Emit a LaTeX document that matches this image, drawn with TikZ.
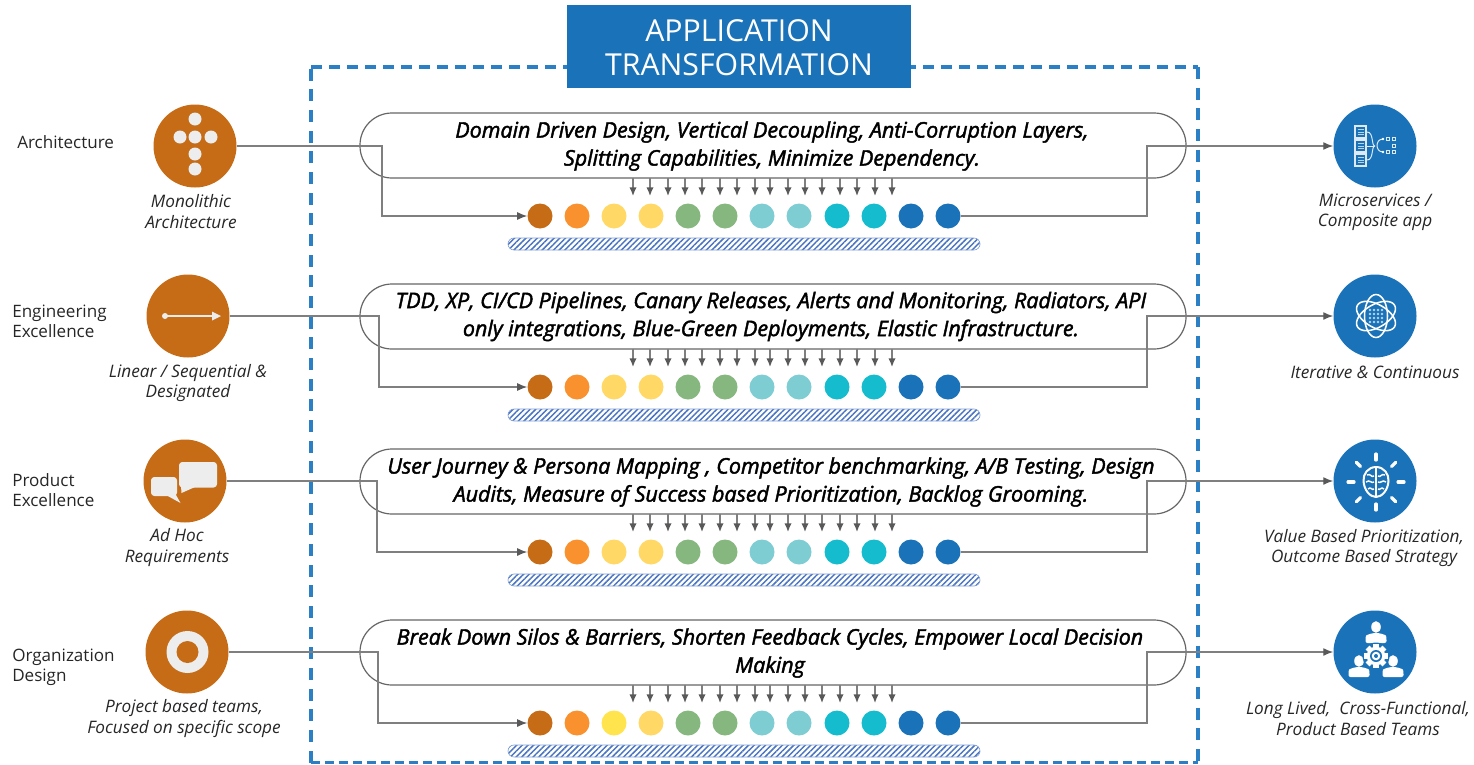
\documentclass[tikz,border=0pt]{standalone}
\usepackage{fontspec}
\setmainfont{Open Sans}
\newfontfamily\pillfont{Open Sans}[UprightFont=* Italic]
\newcommand{\heavytext}[1]{\special{pdf:code 2 Tr 0.32 w}#1\special{pdf:code 0 Tr 1 w}}
\usetikzlibrary{arrows.meta,patterns.meta}
\definecolor{rustc}{HTML}{C66C16}
\definecolor{bluec}{HTML}{1A72B9}
\definecolor{dashc}{HTML}{2A7FC5}
\definecolor{iconc}{HTML}{EDEDED}
\definecolor{linec}{HTML}{7F7F7F}
\definecolor{headc}{HTML}{595959}
\definecolor{pillc}{HTML}{666666}
\definecolor{txtc}{HTML}{262626}
\definecolor{dA}{HTML}{C66C16}
\definecolor{dB}{HTML}{F9922E}
\definecolor{dC}{HTML}{FFD866}
\definecolor{dCC}{HTML}{FFE44D}
\definecolor{dD}{HTML}{85B77E}
\definecolor{dE}{HTML}{7DCDD3}
\definecolor{dF}{HTML}{15BCCE}
\definecolor{hatchc}{HTML}{4A74C0}
\tikzset{
  x=0.75pt,y=-0.75pt,
  boxside/.style={draw=dashc,line width=2.4pt,dash pattern=on 9pt off 6.5pt},
  titlebox/.style={fill=bluec,draw=none,text=white,minimum width=258pt,minimum height=62pt,inner sep=0pt},
  titletxt/.style={align=center,text=white,inner sep=0pt,font=\fontsize{22.7}{25.5}\selectfont},
  pill/.style={draw=pillc,line width=0.9pt,rounded corners=24pt,minimum width=619.5pt,minimum height=48.75pt,inner sep=0pt},
  pilltext/.style={align=center,text=black,font=\pillfont\fontsize{16.1}{21}\selectfont,inner sep=0pt},
  conn/.style={draw=linec,line width=1pt},
  connarrow/.style={conn,-{Latex[length=7.5pt,width=6pt,color=headc]}},
  downarrow/.style={conn,-{Latex[length=6.5pt,width=5.5pt,color=headc]}},
  bigleft/.style={circle,fill=rustc,minimum size=62.25pt,inner sep=0pt},
  bigright/.style={circle,fill=bluec,minimum size=62.25pt,inner sep=0pt},
  dotnode/.style={circle,minimum size=18.75pt,inner sep=0pt},
  hatchbar/.style={draw=hatchc!70,line width=0.5pt,rounded corners=4.5pt,pattern={Lines[angle=45,distance=3pt,line width=1.1pt]},pattern color=hatchc},
  lab/.style={align=left,anchor=west,text=txtc,inner sep=0pt,font=\fontsize{12.8}{15}\selectfont},
  captext/.style={align=center,text=txtc,inner sep=0pt,font=\fontsize{12.9}{15.3}\selectfont\itshape},
}
\begin{document}
\begin{tikzpicture}
\useasboundingbox (0,0) rectangle (1474,764);
% dashed frame
\draw[boxside] (311,762.5) -- (311,67);
\draw[boxside,dash pattern=on 8pt off 5.5pt] (311,67) -- (1198,67);
\draw[boxside] (1198,67) -- (1198,762.5);
\draw[boxside,dash pattern=on 6.5pt off 4pt] (311,762.5) -- (1198,762.5);
% title
\node[titlebox] (title) at (739,46.5) {};
\node[titletxt] (titletext) at (739,47.5) {APPLICATION\\TRANSFORMATION};
% pills
\node[pill] (pill1) at (773,145.5) {};
\node[pill] (pill2) at (773,316.5) {};
\node[pill] (pill3) at (773,481.5) {};
\node[pill] (pill4) at (773,652.5) {};
% rows
\foreach \r/\ly/\lx/\tx/\dy/\pb/\tc in {1/146/195/382/216/178/dC,2/316/188/379/387/349/dC,3/481/185/377/552/514/dC,4/652/187/378/723/685/dCC}{
  \colorlet{thirdc}{\tc}
  \node[bigleft] (L\r) at (\lx,\ly) {};
  \node[bigright] (R\r) at (1375,\ly) {};
  \foreach \i/\dx/\c in {1/540/dA,2/577/dB,3/614/thirdc,4/651/dC,5/688/dD,6/725/dD,7/762/dE,8/799/dE,9/837/dF,10/874/dF,11/911/bluec,12/948/bluec}{
    \node[dotnode,fill=\c] (d\r-\i) at (\dx,\dy) {};
  }
  \coordinate (tl\r) at (\tx,\ly);
  \coordinate (tb\r) at (\tx,\dy);
  \coordinate (tr\r) at (1147,\dy);
  \coordinate (ts\r) at (1147,\ly);
  \draw[connarrow] (L\r.east) -- (tl\r) -- (tb\r) -- (d\r-1.west);
  \draw[connarrow] (d\r-12.east) -- (tr\r) -- (ts\r) -- (R\r.west);
  \foreach \j/\ax in {1/633,2/650,3/668,4/685,5/702,6/720,7/737,8/755,9/770,10/788,11/805,12/822,13/840,14/857,15/875,16/892}{
    \coordinate (as\r-\j) at (\ax,\pb);
    \coordinate (ae\r-\j) at (\ax,\pb+18);
    \draw[downarrow] (as\r-\j) -- (ae\r-\j);
  }
  \path[hatchbar] (508,\dy+22) rectangle (980,\dy+34);
}
% pill texts
\node[pilltext] (pt1) at (772,146) {\heavytext{Domain Driven Design, Vertical Decoupling, Anti-Corruption Layers,}\\\heavytext{Splitting Capabilities, Minimize Dependency.}};
\node[pilltext] (pt2) at (771,316.5) {\heavytext{TDD, XP, CI/CD Pipelines, Canary Releases, Alerts and Monitoring, Radiators, API}\\\heavytext{only integrations, Blue-Green Deployments, Elastic Infrastructure.}};
\node[pilltext] (pt3) at (771,482) {\heavytext{User Journey \& Persona Mapping , Competitor benchmarking, A/B Testing, Design}\\\heavytext{Audits, Measure of Success based Prioritization, Backlog Grooming.}};
\node[pilltext] (pt4) at (770,653) {\heavytext{Break Down Silos \& Barriers, Shorten Feedback Cycles, Empower Local Decision}\\\heavytext{Making}};
% left labels
\node[lab] (la1) at (17,142) {Architecture};
\node[lab] (la2) at (12,321.5) {Engineering\\Excellence};
\node[lab] (la3) at (12,490) {Product\\Excellence};
\node[lab] (la4) at (12,667.5) {Organization\\Design};
% captions
\node[captext] (c1) at (191,211.5) {Monolithic\\Architecture};
\node[captext] (c2) at (188,383) {Linear / Sequential \&\\Designated};
\node[captext] (c3) at (177,547.5) {Ad Hoc\\Requirements};
\node[captext] (c4) at (184,718.5) {Project based teams,\\Focused on specific scope};
\node[captext] (e1) at (1375,212.5) {Microservices /\\Composite app};
\node[captext] (e2) at (1375,372.5) {Iterative \& Continuous};
\node[captext] (e3) at (1364,548) {Value Based Prioritization,\\Outcome Based Strategy};
\node[captext] (e4) at (1358,718.5) {Long Lived,\ \ Cross-Functional,\\Product Based Teams};
% icon: monolith
\foreach \ix/\iy in {195/119,180/137,195/137,211/137,195/154,195/169}{
  \fill[iconc] (\ix,\iy) circle[radius=6.5];
}
% icon: linear
\fill[iconc] (165,316) circle[radius=3];
\fill[iconc] (165,315.3) rectangle (212,316.7);
\fill[iconc] (212,311.5) -- (221,316) -- (212,320.5) -- cycle;
% icon: bubbles
\fill[iconc,rounded corners=2.5pt] (179,462) rectangle (217,487.5);
\fill[iconc] (181,486) -- (181.5,493) -- (195,487) -- cycle;
\fill[iconc,rounded corners=2.5pt] (151,477) rectangle (177,496);
\fill[iconc] (166,495) -- (180.5,503) -- (176,495) -- cycle;
% icon: target
\fill[iconc] (187.5,652) circle[radius=21];
\fill[rustc] (187.5,652) circle[radius=11];
% icon: microservices
\foreach \q in {126,140,154}{
  \draw[white!85!bluec,line width=0.8pt] (1355,\q) rectangle (1366,\q+12);
  \draw[white!70!bluec,line width=0.5pt] (1357.5,\q+3.5) -- (1363.5,\q+3.5) (1357.5,\q+6) -- (1363.5,\q+6) (1357.5,\q+8.5) -- (1363.5,\q+8.5);
}
\draw[white!85!bluec,line width=0.75pt] (1367,132) .. controls (1374,132) and (1371,146) .. (1375,146);
\draw[white!85!bluec,line width=0.75pt] (1367,160) .. controls (1374,160) and (1371,146) .. (1375,146);
\draw[white!85!bluec,line width=0.75pt] (1367,146) -- (1375,146);
\draw[white!85!bluec,line width=0.75pt] (1383,139) .. controls (1375,139) and (1375,152) .. (1383,152);
\fill[white] (1383,139) circle[radius=1.4] (1383,152) circle[radius=1.4];
\foreach \bx/\by in {1386/137,1392/137,1392/144,1386/150,1392/150}{
  \draw[white!85!bluec,line width=0.7pt] (\bx,\by) rectangle (\bx+3.2,\by+3.6);
}
% icon: atom
\begin{scope}[shift={(1376,316)}]
  \foreach \a in {90,30,-30}{
    \draw[white,line width=1.15pt,rotate=\a] (0,0) ellipse [x radius=21.5,y radius=11.5];
  }
  \foreach \ax in {-6,-2,2,6}{\foreach \ay in {-6,-2,2,6}{
    \fill[white!70!bluec] (\ax,\ay) circle[radius=1.4];
  }}
\end{scope}
% icon: brain
\begin{scope}[shift={(1376,482)}]
  \foreach \a in {0,45,...,315}{
    \draw[white,line width=2.4pt,line cap=round,rotate=\a] (22,0) -- (28,0);
  }
  \draw[white,line width=1.5pt] (0,-15) .. controls (8,-15) and (13,-8) .. (12.5,-1) .. controls (12,8) and (6,15) .. (0,15) .. controls (-6,15) and (-12,8) .. (-12.5,-1) .. controls (-13,-8) and (-8,-15) .. (0,-15) -- cycle;
  \draw[white,line width=1.1pt] (0,-15) -- (0,15);
  \draw[white,line width=1.1pt] (-9,-7) .. controls (-5,-9) and (-5,-4) .. (-2,-6) (-10,0) .. controls (-6,-3) and (-5,2) .. (-2,0) (-8,7) .. controls (-5,4) and (-4,9) .. (-2,7);
  \draw[white,line width=1.1pt] (9,-7) .. controls (5,-9) and (5,-4) .. (2,-6) (10,0) .. controls (6,-3) and (5,2) .. (2,0) (8,7) .. controls (5,4) and (4,9) .. (2,7);
\end{scope}
% icon: team
\begin{scope}[shift={(1375,652)}]
  \foreach \px/\py in {1/-18,-16/16,18/16}{
    \begin{scope}[shift={(\px,\py)}]
      \fill[white] (0,-7) ellipse [x radius=4.8,y radius=5.8];
      \fill[white,rounded corners=1.5pt] (-10.5,9) -- (-10.5,4) .. controls (-10,1) and (-6,0) .. (-3.5,-1) -- (3.5,-1) .. controls (6,0) and (10,1) .. (10.5,4) -- (10.5,9) -- cycle;
    \end{scope}
  }
  \begin{scope}[shift={(1,4)}]
    \fill[bluec] (0,0) circle[radius=13.5];
    \foreach \a in {0,45,...,315}{
      \fill[white,rotate=\a] (-2.7,-12) rectangle (2.7,-6);
    }
    \fill[white] (0,0) circle[radius=9.3];
    \fill[bluec] (0,0) circle[radius=6];
    \fill[white] (0,0) circle[radius=4.3];
    \fill[bluec] (0,0) circle[radius=2];
  \end{scope}
\end{scope}
\end{tikzpicture}
\end{document}
